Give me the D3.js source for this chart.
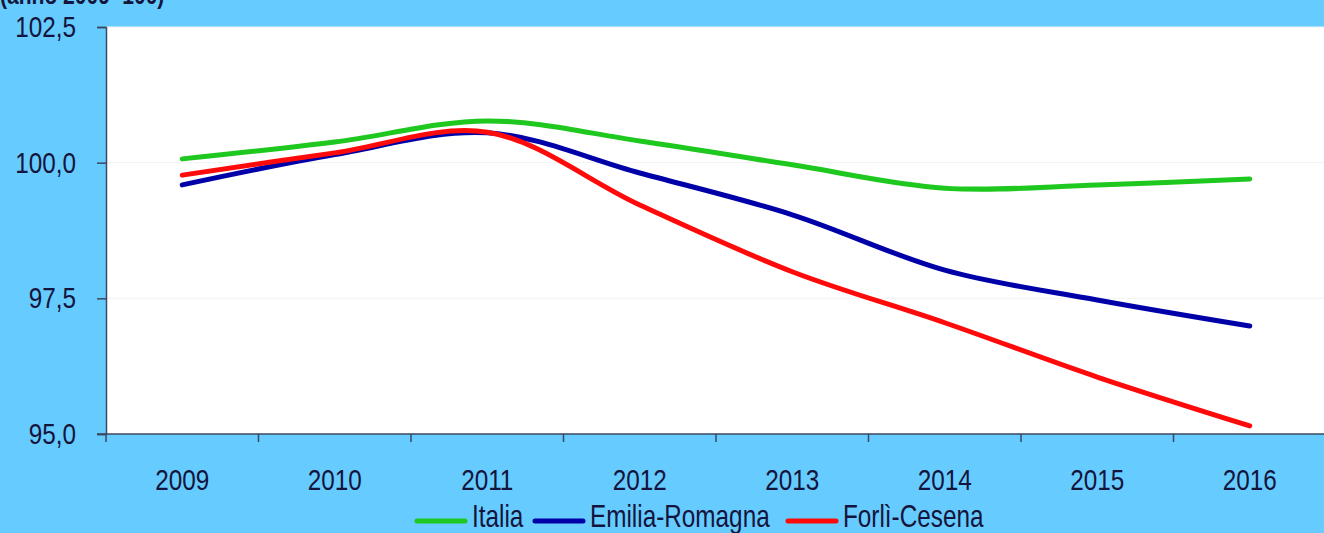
<!DOCTYPE html>
<html>
<head>
<meta charset="utf-8">
<script src="https://cdn.jsdelivr.net/npm/d3@7"></script>
<style>
  body { margin: 0; background: #66ccff; }
  text { font-family: "Liberation Sans", Arial, sans-serif; fill: #14143c; }
</style>
</head>
<body>
<div id="chart"></div>
<script>
// data (index, 2009 = 100)
var years = ["2009", "2010", "2011", "2012", "2013", "2014", "2015", "2016"];
var italia = [100.07, 100.38, 100.77, 100.40, 99.96, 99.53, 99.59, 99.70];
var emilia = [99.59, 100.15, 100.55, 99.81, 99.04, 98.02, 97.47, 96.99];
var forli = [99.77, 100.18, 100.56, 99.22, 97.99, 97.05, 96.05, 95.15];
var yTicks = [95, 97.5, 100, 102.5];

var series = [
  { name: "Italia", values: italia, color: "#1ec81e" },
  { name: "Emilia-Romagna", values: emilia, color: "#0000a8" },
  { name: "Forlì-Cesena", values: forli, color: "#ff0a0a" }
];

var width = 1324;
var height = 533;
var margin = { top: 27, right: -2, bottom: 99, left: 106 };

var svg = d3.select("#chart")
            .append("svg")
            .attr("width", width)
            .attr("height", height);

// no narrow font installed, so squeeze the text sideways
function squeeze(x, y, s) {
   return "translate(" + x + "," + y + ") scale(" + (s || 0.81) + ",1)";
}

// title, cut off at the top in the original
svg.append("text")
   .attr("transform", squeeze(0, 4))
   .style("font-size", "26px")
   .style("font-weight", "bold")
   .text("(anno 2009=100)");

var x = d3.scaleBand()
          .domain(years)
          .range([margin.left, width - margin.right]);

var y = d3.scaleLinear()
          .domain([95, 102.5])
          .range([height - margin.bottom, margin.top]);

// plot area
svg.append("rect")
   .attr("x", margin.left)
   .attr("y", margin.top)
   .attr("width", width - margin.right - margin.left)
   .attr("height", y(95) - margin.top)
   .attr("fill", "white");

// faint grid lines
svg.append("g")
   .selectAll("line")
   .data(yTicks.slice(1))
   .join("line")
   .attr("x1", margin.left)
   .attr("x2", width - margin.right)
   .attr("y1", function(d) { return y(d); })
   .attr("y2", function(d) { return y(d); })
   .attr("stroke", "#f2f2f2")
   .attr("stroke-width", 1);

// y axis
var yAxis = svg.append("g")
   .attr("transform", "translate(" + margin.left + ",0)")
   .call(d3.axisLeft(y)
           .tickValues(yTicks)
           .tickSize(9)
           .tickFormat(function(d) { return d3.format(".1f")(d).replace(".", ","); }));
yAxis.select(".domain").attr("stroke", "#3c4860").attr("stroke-width", 1.5);
yAxis.selectAll(".tick line").attr("stroke", "#3c4860").attr("stroke-width", 1.5);
yAxis.selectAll(".tick text")
     .attr("x", null)
     .attr("dy", "0.35em")
     .attr("transform", squeeze(-30, -1))
     .attr("fill", "#14143c")
     .style("font-size", "30px")
     .style("font-family", "'Liberation Sans', Arial, sans-serif");

// x axis: ticks between categories
var xAxisG = svg.append("g")
   .attr("transform", "translate(0," + y(95) + ")");
xAxisG.append("line")
      .attr("x1", margin.left - 9)
      .attr("x2", width)
      .attr("stroke", "#3c4860")
      .attr("stroke-width", 1.5);
xAxisG.selectAll(".xtick")
      .data(years)
      .join("line")
      .attr("class", "xtick")
      .attr("x1", function(d) { return x(d); })
      .attr("x2", function(d) { return x(d); })
      .attr("y1", 0)
      .attr("y2", 8)
      .attr("stroke", "#3c4860")
      .attr("stroke-width", 1.5);
xAxisG.selectAll(".xlabel")
      .data(years)
      .join("text")
      .attr("class", "xlabel")
      .attr("transform", function(d) { return squeeze(x(d) + x.bandwidth() / 2, 56); })
      .attr("text-anchor", "middle")
      .style("font-size", "30px")
      .text(function(d) { return d; });

// lines
var line = d3.line()
             .x(function(d, i) { return x(years[i]) + x.bandwidth() / 2; })
             .y(function(d) { return y(d); })
             .curve(d3.curveCatmullRom.alpha(0.5));

svg.append("g")
   .selectAll("path")
   .data(series)
   .join("path")
   .attr("d", function(d) { return line(d.values); })
   .attr("fill", "none")
   .attr("stroke", function(d) { return d.color; })
   .attr("stroke-width", 5)
   .attr("stroke-linecap", "round")
   .attr("stroke-linejoin", "round");

// legend
var legendX = [417, 535, 788];
var legend = svg.append("g")
   .selectAll("g")
   .data(series)
   .join("g")
   .attr("transform", function(d, i) { return "translate(" + legendX[i] + ",521)"; });
legend.append("line")
      .attr("x1", 0)
      .attr("x2", 48)
      .attr("stroke", function(d) { return d.color; })
      .attr("stroke-width", 5)
      .attr("stroke-linecap", "round");
legend.append("text")
      .attr("transform", squeeze(55, 6, 0.76))
      .style("font-size", "32px")
      .text(function(d) { return d.name; });
</script>
</body>
</html>
